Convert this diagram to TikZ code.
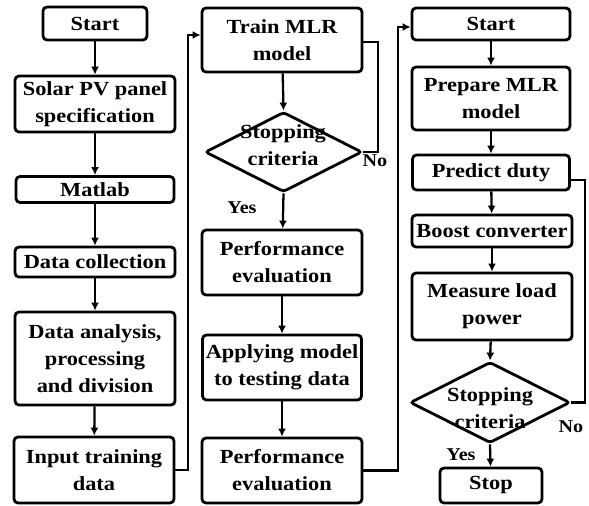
\documentclass[tikz,border=0pt]{standalone}
\usepackage{fontspec}
\setmainfont{Liberation Serif}[FakeStretch=1.12]
\usetikzlibrary{arrows.meta,shapes.geometric}
\begin{document}
\begin{tikzpicture}[x=1pt,y=-1pt,
 box/.style={draw, line width=2.8pt, rounded corners=4pt, inner sep=0pt, align=center, font=\bfseries\fontsize{20}{27}\selectfont},
 decision/.style={draw, diamond, line width=2.8pt, rounded corners=3pt, inner sep=0pt},
 txt/.style={font=\bfseries\fontsize{20}{27}\selectfont, align=center, inner sep=0pt},
 lbl/.style={font=\bfseries\fontsize{18}{20}\selectfont, inner sep=0pt},
 arr/.style={line width=2.3pt, -{Latex[length=8pt,width=8pt]}},
 ln/.style={line width=2.3pt}]
\useasboundingbox (0,0) rectangle (589,506);
% column 1
\node[box, minimum width=104pt, minimum height=33pt] (s1) at (95,23.5) {Start};
\node[box, minimum width=160pt, minimum height=56pt] (solar) at (95,104) {Solar PV panel\\specification};
\node[box, minimum width=158pt, minimum height=26pt] (matlab) at (95,189.5) {Matlab};
\node[box, minimum width=160pt, minimum height=30pt] (coll) at (95,262) {Data collection};
\node[box, minimum width=160pt, minimum height=93pt] (anal) at (95,358.5) {Data analysis,\\processing\\and division};
\node[box, minimum width=160pt, minimum height=66pt] (input) at (94,470) {Input training\\data};
% column 2
\node[box, minimum width=160pt, minimum height=64pt] (train) at (282,40) {Train MLR\\model};
\node[decision, minimum width=157pt, minimum height=80pt] (d1) at (283.5,152) {};
\node[txt] (d1t) at (283,145) {Stopping\\criteria};
\node[box, minimum width=160pt, minimum height=65pt] (perf1) at (282,262.5) {Performance\\evaluation};
\node[box, minimum width=159pt, minimum height=65pt] (apply) at (282,367.5) {Applying model\\to testing data};
\node[box, minimum width=160pt, minimum height=65pt] (perf2) at (282,470.5) {Performance\\evaluation};
% column 3
\node[box, minimum width=158pt, minimum height=32pt] (s3) at (491,24) {Start};
\node[box, minimum width=158pt, minimum height=63pt] (prep) at (491,98.5) {Prepare MLR\\model};
\node[box, minimum width=157pt, minimum height=35pt] (pred) at (491,172.5) {Predict duty};
\node[box, minimum width=160pt, minimum height=32pt] (boost) at (492,231) {Boost converter};
\node[box, minimum width=160pt, minimum height=67pt] (meas) at (492,306.5) {Measure load\\power};
\node[decision, minimum width=160pt, minimum height=81pt] (d2) at (490,402.5) {};
\node[txt] (d2t) at (490,408) {Stopping\\criteria};
\node[box, minimum width=102pt, minimum height=35pt] (stop) at (491,485.5) {Stop};
% labels
\node[lbl] (y1) at (242,208) {Yes};
\node[lbl] (n1l) at (375,161) {No};
\node[lbl] (y2) at (461,455) {Yes};
\node[lbl] (n2l) at (571,427) {No};
% coordinates
\coordinate (c1) at (188,35);
\coordinate (k1) at (378,42);
\coordinate (c2) at (398,27);
\coordinate (k2) at (585,180);
% arrows column 1
\draw[arr] (s1) -- (solar);
\draw[arr] (solar) -- (matlab);
\draw[arr] (matlab) -- (coll);
\draw[arr] (coll) -- (anal);
\draw[arr] (anal) -- (input);
\draw[arr] (input.east) -| (c1) -- (c1 -| train.west);
% column 2
\draw[arr] (train) -- (d1.north);
\draw[ln] (d1.east) -| (k1) -- (k1 -| train.east);
\draw[arr] (d1.south) -- (perf1);
\draw[arr] (perf1) -- (apply);
\draw[arr] (apply) -- (perf2);
\draw[arr] (perf2.east) -| (c2) -- (c2 -| s3.west);
% column 3
\draw[arr] (s3) -- (prep);
\draw[arr] (prep) -- (pred);
\draw[arr] (pred) -- (boost);
\draw[arr] (boost) -- (meas);
\draw[arr] (meas) -- (d2.north);
\draw[ln] (d2.east) -| (k2) -- (k2 -| pred.east);
\draw[arr] (d2.south) -- (stop);
\end{tikzpicture}
\end{document}
